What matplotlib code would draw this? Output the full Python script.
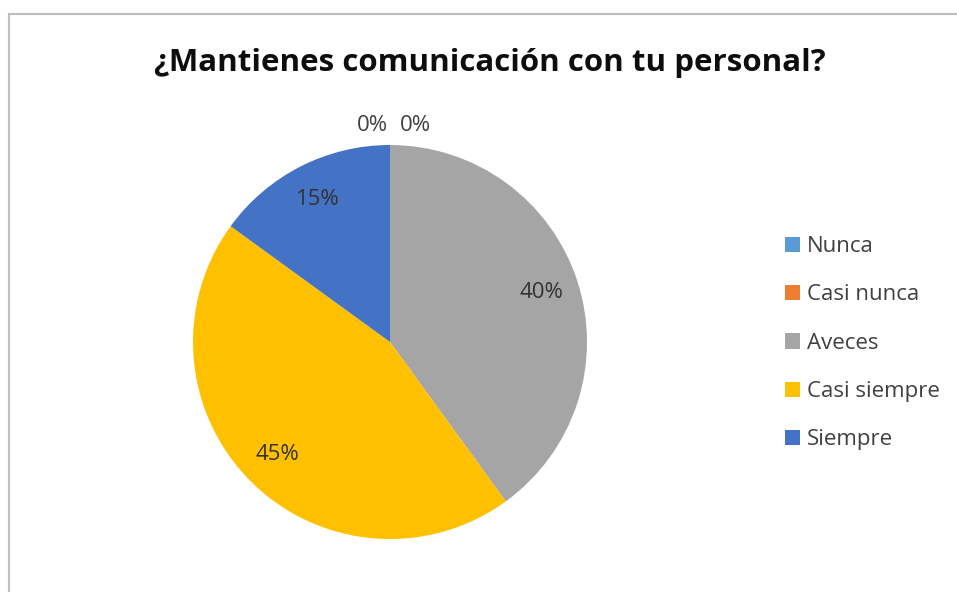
import numpy as np
import matplotlib.pyplot as plt
from matplotlib.lines import Line2D
from matplotlib.patches import Patch

plt.rcParams['font.family'] = ['Open Sans', 'DejaVu Sans']

# Datos
categorias = ['Nunca', 'Casi nunca', 'Aveces', 'Casi siempre', 'Siempre']
porcentajes = [0, 0, 40, 45, 15]
colores = ['#5B9BD5', '#ED7D31', '#A5A5A5', '#FFC000', '#4472C4']
titulo = '¿Mantienes comunicación con tu personal?'

W, H = 957, 592
fig = plt.figure(figsize=(W / 100, H / 100), dpi=100)

# Marco del gráfico (solo arriba e izquierda visibles)
fig.add_artist(Line2D([9 / W, 9 / W], [0, 1 - 14 / H], color='#BFBFBF', lw=1.5))
fig.add_artist(Line2D([9 / W, 1], [1 - 14 / H, 1 - 14 / H], color='#BFBFBF', lw=1.5))

# Ejes del pastel
cx, cy, r = 390, 342, 197
ax = fig.add_axes([(cx - r) / W, (H - cy - r) / H, 2 * r / W, 2 * r / H])
wedges, _ = ax.pie(porcentajes, colors=colores, startangle=90, counterclock=False,
                   radius=1.0, wedgeprops=dict(linewidth=0))
ax.set_xlim(-1, 1)
ax.set_ylim(-1, 1)
ax.set_aspect('equal')
ax.axis('off')

# Etiquetas de porcentaje
ceros = 0
for w, v in zip(wedges, porcentajes):
    ang = np.deg2rad((w.theta1 + w.theta2) / 2)
    if v == 0:
        x, y = 1.1 * np.cos(ang), 1.1 * np.sin(ang)
        dx = -18 if ceros == 0 else 25
        ceros += 1
        ax.annotate(f'{v}%', (x, y), xytext=(dx * 0.72, 0), textcoords='offset points',
                    ha='center', va='center', fontsize=16, color='#404040',
                    annotation_clip=False)
    else:
        x, y = 0.81 * np.cos(ang), 0.81 * np.sin(ang)
        ax.text(x, y, f'{v}%', ha='center', va='center', fontsize=16, color='#333333')

# Título
fig.text(490 / W, 1 - 63 / H, titulo, ha='center', va='center',
         fontsize=22.5, fontweight='bold', color='#0D0D0D')

# Leyenda
handles = [Patch(facecolor=c, edgecolor='none', label=l) for c, l in zip(colores, categorias)]
fig.legend(handles=handles, loc='upper left', bbox_to_anchor=(785 / W, 1 - 236 / H),
           frameon=False, fontsize=16, labelcolor='#404040', handlelength=0.68,
           handleheight=0.68, handletextpad=0.3, labelspacing=1.23, borderpad=0,
           borderaxespad=0)

plt.savefig('out.png', dpi=100, facecolor='white')
